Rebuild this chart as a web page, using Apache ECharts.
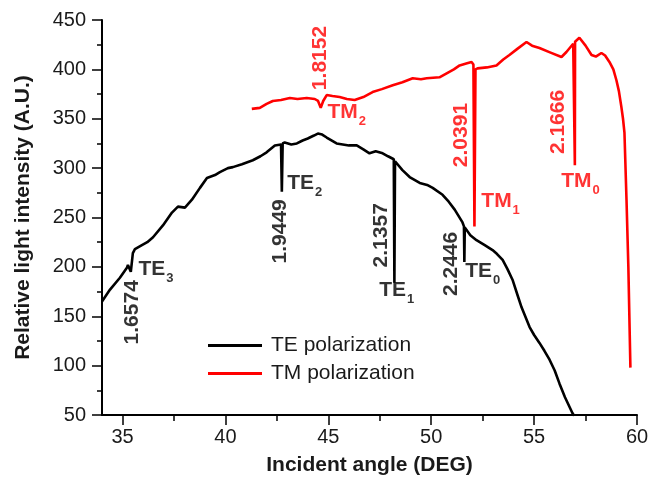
<!DOCTYPE html>
<html>
<head>
<meta charset="utf-8">
<script src="https://cdn.jsdelivr.net/npm/echarts@6/dist/echarts.min.js"></script>
<style>
html,body{margin:0;padding:0;background:#fff;}
#chart{width:649px;height:477px;}
</style>
</head>
<body>
<div id="chart"></div>
<script>
// ---- data ----
const teAngle = [34.0,34.39,34.87,35.21,35.26,35.40,35.50,35.6,35.94,36.2,36.48,36.96,37.4,37.69,38.03,38.37,38.76,39.1,39.49,39.73,40.12,40.36,40.8,41.33,41.7,42.0,42.4,42.70,42.74,42.78,42.88,43.2,43.47,43.75,44.0,44.3,44.49,44.7,44.92,45.4,45.7,46.0,46.38,46.7,47.0,47.3,47.64,47.9,48.18,48.21,48.24,48.6,48.95,49.44,49.8,50.07,50.55,50.85,51.14,51.52,51.59,51.61,51.63,51.9,52.2,52.6,52.98,53.2,53.47,53.7,53.95,54.2,54.39,54.78,55.0,55.26,55.5,55.75,56.0,56.23,56.5,56.86,56.95];
const teIntensity = [165,177,189,199,202,195,214,218,222,225,230,242,255,261,260,268,280,290,293,296,300,301,304,308,312,316,323,324,276,325,326,324,325,328,330,333,335,334,331,325,324,323,323,319,315,317,315,312,309,184,307,298,291,285,283,280,273,266,258,245,241,205,240,232,227,222,217,213,207,198,187,171,159,139,131,123,115,106,95,82,68,52,49];

const tmAngle = [41.28,41.67,42.0,42.3,42.7,43.13,43.5,43.95,44.34,44.5,44.63,44.75,44.92,45.2,45.55,45.9,46.28,46.7,47.15,47.6,48.13,48.6,49.1,49.5,49.78,50.4,50.75,51.1,51.38,51.7,51.96,52.05,52.10,52.15,52.25,52.7,53.17,53.5,53.8,54.2,54.63,54.9,55.26,55.8,56.33,56.57,56.90,56.97,56.98,56.99,57.2,57.5,57.79,58.0,58.27,58.45,58.66,58.85,59.0,59.12,59.24,59.32,59.39,59.49,59.58,59.68];
const tmIntensity = [360,361,365,368,369,371,370,371,370,368,361,368,374,373,372,370,369,372,377,380,384,387,391,390,391,392,396,400,404,406,407.5,405,241,400,401,402,404,410,414.5,421,427.7,424,421.6,417,412.5,417.6,426,428,303,428,432,424,414.5,413,416.6,414,407.5,400,389,378,362,350,336,268,200,98];

const xMajorTicks = [35,40,45,50,55,60];
const xMinorTicks = [37.5,42.5,47.5,52.5,57.5];

// annotations: refractive index values and mode names
const teIndexValues = ['1.6574','1.9449','2.1357','2.2446'];
const teIndexPos = [[35.46,154],[42.64,236],[47.57,232],[50.99,203]];
const teModes = ['3','2','1','0'];
const teModePos = [[36.62,195],[43.85,282],[48.32,174],[52.5,193]];
const tmIndexValues = ['1.8152','2.0391','2.1666'];
const tmIndexPos = [[44.58,411.5],[51.48,333.5],[56.18,346.7]];
const tmModes = ['2','1','0'];
const tmModePos = [[45.89,354],[53.37,264],[57.25,284]];

// ---- build ----
const zip = (a,b) => a.map((v,i)=>[v,b[i]]);
const FONT = 'Liberation Sans, Arial, sans-serif';
const RED = '#ff0000';

function indexLabels(vals, pos, color){
  return vals.map((t,i)=>({
    value: pos[i],
    label: {show:true, formatter:t, rotate:90, position:'inside', color:color,
      fontFamily:FONT, fontWeight:'bold', fontSize:21}
  }));
}
function modeLabels(prefix, subs, pos, color){
  return subs.map((s,i)=>({
    value: pos[i],
    label: {show:true, formatter:'{m|'+prefix+'}{s|'+s+'}', position:'inside',
      rich:{
        m:{fontFamily:FONT, fontWeight:'bold', fontSize:21, color:color, lineHeight:26, verticalAlign:'top'},
        s:{fontFamily:FONT, fontWeight:'bold', fontSize:13, color:color, lineHeight:13, verticalAlign:'bottom', padding:[0,0,0,1]}
      }}
  }));
}

const chart = echarts.init(document.getElementById('chart'), null, {renderer:'canvas'});
const axisText = {fontFamily:FONT, fontSize:20, color:'#1a1a1a'};

chart.setOption({
  animation:false,
  backgroundColor:'#fff',
  grid:{left:102, right:12, top:20, bottom:62, containLabel:false, outerBoundsMode:'none'},
  legend:{
    data:['TE polarization','TM polarization'],
    orient:'vertical', left:208, top:335, padding:0,
    icon:'rect', itemWidth:54, itemHeight:3, itemGap:7,
    textStyle:{fontFamily:FONT, fontSize:21, color:'#1a1a1a', lineHeight:21, padding:[0,0,0,4]}
  },
  xAxis:[{
    type:'value', min:34, max:60,
    name:'Incident angle (DEG)', nameLocation:'middle', nameGap:40,
    nameTextStyle:{fontFamily:FONT, fontSize:21, fontWeight:'bold', color:'#1a1a1a'},
    axisLine:{show:true, lineStyle:{color:'#000', width:2}},
    axisTick:{show:true, inside:false, length:10, lineStyle:{color:'#000', width:1.5}, customValues:xMajorTicks},
    axisLabel:{...axisText, margin:12, customValues:xMajorTicks},
    splitLine:{show:false}
  },{
    type:'value', min:34, max:60, position:'bottom',
    axisLine:{show:false},
    axisTick:{show:true, inside:false, length:6, lineStyle:{color:'#000', width:1.5}, customValues:xMinorTicks},
    axisLabel:{show:false},
    splitLine:{show:false}
  }],
  yAxis:{
    type:'value', min:50, max:450, interval:50,
    name:'Relative light intensity (A.U.)', nameLocation:'middle', nameGap:68,
    nameTextStyle:{fontFamily:FONT, fontSize:21, fontWeight:'bold', color:'#1a1a1a'},
    axisLine:{show:true, lineStyle:{color:'#000', width:2}},
    axisTick:{show:true, inside:false, length:10, lineStyle:{color:'#000', width:1.5}},
    minorTick:{show:true, splitNumber:2, length:5, lineStyle:{color:'#000', width:1.5}},
    axisLabel:{...axisText, margin:16},
    splitLine:{show:false}
  },
  series:[
    {name:'TE polarization', type:'line', data:zip(teAngle,teIntensity), showSymbol:false, symbol:'none',
      color:'#000', lineStyle:{color:'#000', width:2.6}, clip:true, z:3},
    {name:'TM polarization', type:'line', data:zip(tmAngle,tmIntensity), showSymbol:false, symbol:'none',
      color:RED, lineStyle:{color:RED, width:2.6}, clip:true, z:3},
    {type:'scatter', symbolSize:0, silent:true, z:5,
      data:[].concat(indexLabels(teIndexValues, teIndexPos, '#000'), modeLabels('TE', teModes, teModePos, '#000'))},
    {type:'scatter', symbolSize:0, silent:true, z:5,
      data:[].concat(indexLabels(tmIndexValues, tmIndexPos, RED), modeLabels('TM', tmModes, tmModePos, RED))}
  ]
});
</script>
</body>
</html>
